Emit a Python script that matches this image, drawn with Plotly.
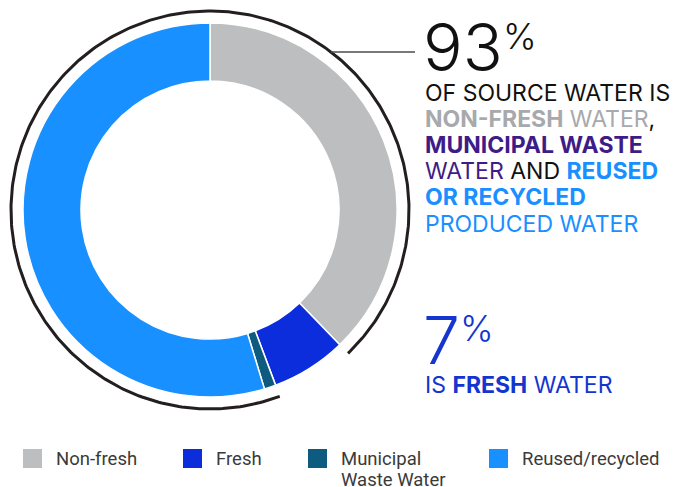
import numpy as np
import plotly.graph_objects as go

# data
labels = ["Non-fresh", "Fresh", "Municipal<br>Waste Water", "Reused/recycled"]
values = [37.8, 6.5, 1.0, 54.7]
colors = ["#BDBEC0", "#0B2DDB", "#0D5C80", "#1890FF"]

body_lines = [
    "OF SOURCE WATER IS",
    "<span style='color:#A7A9AC'><b>NON-FRESH</b> WATER</span>,",
    "<span style='color:#3E1C87'><b>MUNICIPAL WASTE</b></span>",
    "<span style='color:#3E1C87'>WATER</span> AND <span style='color:#1A8FFF'><b>REUSED</b></span>",
    "<span style='color:#1A8FFF'><b>OR RECYCLED</b></span>",
    "<span style='color:#1A8FFF'>PRODUCED WATER</span>",
]

W, H = 689, 487
CX, CY, R = 210, 210, 187      # donut centre / outer radius in px
ARC_R = 199                    # outer black ring

fig = go.Figure()

fig.add_trace(go.Pie(
    labels=labels, values=values,
    marker=dict(colors=colors, line=dict(color="white", width=1.5)),
    hole=0.69, sort=False, direction="clockwise", rotation=0,
    textinfo="none", hoverinfo="label+percent", showlegend=False,
    domain=dict(x=[(CX - R) / W, (CX + R) / W],
                y=[1 - (CY + R) / H, 1 - (CY - R) / H]),
))

# black ring around everything except the fresh slice
total = sum(values)
a0 = values[0] / total * 360
a1 = (values[0] + values[1]) / total * 360
theta = np.radians(np.linspace(a1, a0 + 360, 400))
fig.add_trace(go.Scatter(
    x=CX + ARC_R * np.sin(theta), y=CY - ARC_R * np.cos(theta),
    mode="lines", line=dict(color="#231F20", width=3),
    hoverinfo="skip", showlegend=False,
))

fig.add_shape(type="line", x0=331, x1=415, y0=52, y1=52,
              line=dict(color="#4D4D4D", width=1.5), xref="x", yref="y")

BIG = dict(family="Inter, Roboto, sans-serif", size=66, color="#111111", weight=300)
SMALL = dict(family="Inter, Roboto, sans-serif", size=23, color="#111111")
FRESH_TXT = "#1435CF"


def note(x, y, text, font):
    fig.add_annotation(x=x, y=y, text=text, xanchor="left", yanchor="middle",
                       align="left", showarrow=False, font=font)


note(421, 47, "93", BIG)
note(501, 36, "%", {**BIG, "size": 36})
for i, line in enumerate(body_lines):
    note(423, 93 + 26.1 * i, line, SMALL)

note(421, 340, "7", {**BIG, "color": FRESH_TXT})
note(458, 328, "%", {**BIG, "size": 36, "color": FRESH_TXT})
note(423, 385, "IS <b>FRESH</b> WATER", {**SMALL, "color": FRESH_TXT})

# legend drawn by hand so the swatches match the original size
sw_x = [23, 183, 308, 489]
LEG = dict(family="Roboto, sans-serif", size=18.5, color="#3A3A3A")
for lab, col, x in zip(labels, colors, sw_x):
    fig.add_shape(type="rect", x0=x, x1=x + 19, y0=449, y1=468,
                  fillcolor=col, line_width=0, xref="x", yref="y")
    for j, part in enumerate(lab.split("<br>")):
        note(x + 31, 458.5 + 21 * j, part, LEG)

fig.update_layout(
    width=W, height=H,
    margin=dict(l=0, r=0, t=0, b=0, autoexpand=False),
    paper_bgcolor="white", plot_bgcolor="white",
    xaxis=dict(range=[0, W], visible=False, fixedrange=True),
    yaxis=dict(range=[H, 0], visible=False, fixedrange=True),
    showlegend=False,
)

# the page body has a default 8px margin; drop it so the figure sits at 0,0
fig.write_html("out.html", config={"displayModeBar": False},
               post_script="document.body.style.margin='0';")
